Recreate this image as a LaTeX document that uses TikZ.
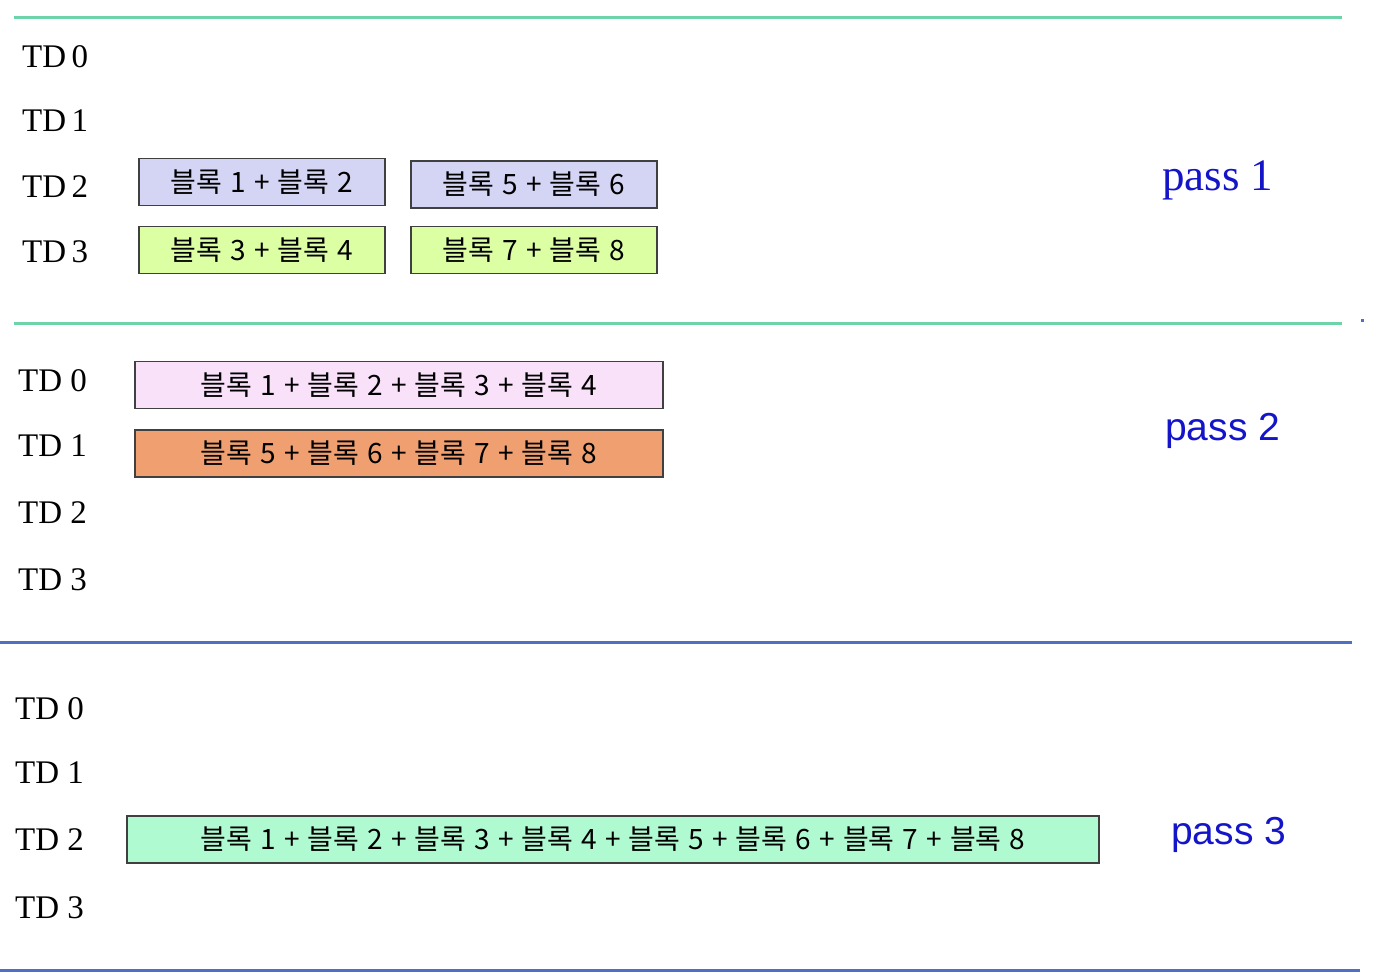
\documentclass[tikz,border=0pt]{standalone}
\usepackage{fontspec}
\setmainfont{Liberation Serif}
\newfontfamily\krfont[WordSpace=1.3]{Noto Sans CJK KR}
\newfontfamily\passsans{Liberation Sans}
\usepackage{tikz}
\usetikzlibrary{positioning}
\definecolor{rulegreen}{HTML}{6CD4A8}
\definecolor{ruleblue}{HTML}{4F6FC4}
\definecolor{passblue}{HTML}{1414C8}
\definecolor{lavender}{HTML}{D4D4F4}
\definecolor{limegreen}{HTML}{DCFFA4}
\definecolor{pinkish}{HTML}{F9E1FA}
\definecolor{salmon}{HTML}{F0A070}
\definecolor{mint}{HTML}{B0FAD2}
\tikzset{
  tdlabel/.style = {anchor=west, inner sep=0pt, font=\fontsize{33}{36}\selectfont},
  blk/.style     = {rectangle, draw=black!75, fill=#1, line width=1.4pt, inner sep=0pt,
                    minimum height=47pt, font=\krfont\fontsize{28}{32}\selectfont},
  passlbl/.style = {anchor=west, inner sep=0pt, text=passblue},
  sep/.style     = {line width=3pt, draw=#1},
}
\begin{document}
\begin{tikzpicture}[x=1pt, y=-1pt]
  \useasboundingbox (0,0) rectangle (1376,978);
  % separators
  \draw[sep=rulegreen] (14,17) -- (1342,17);
  \draw[sep=rulegreen] (14,323) -- (1342,323);
  \draw[sep=ruleblue] (0,642) -- (1352,642);
  \draw[sep=ruleblue] (0,970) -- (1360,970);
  \fill[ruleblue] (1361,319) rectangle (1364,322);
  % pass 1
  \foreach \i/\y in {0/57,1/121,2/187,3/252}
    \node[tdlabel] (pa\i) at (22,\y) {TD\,\i};
  \node[blk=lavender, minimum width=246pt] (b12) at (262,182) {블록 1 + 블록 2};
  \node[blk=lavender, minimum width=246pt] (b56) at (534,184.5) {블록 5 + 블록 6};
  \node[blk=limegreen, minimum width=246pt] (b34) at (262,250) {블록 3 + 블록 4};
  \node[blk=limegreen, minimum width=246pt] (b78) at (534,250) {블록 7 + 블록 8};
  \node[passlbl, font=\fontsize{45}{48}\selectfont] (pass1) at (1162,180) {pass 1};
  % pass 2
  \foreach \i/\y in {0/381,1/446,2/513,3/580}
    \node[tdlabel] (pb\i) at (18,\y) {TD \i};
  \node[blk=pinkish, minimum width=528pt] (b1to4) at (399,385) {블록 1 + 블록 2 + 블록 3 + 블록 4};
  \node[blk=salmon, minimum width=528pt] (b5to8) at (399,453.5) {블록 5 + 블록 6 + 블록 7 + 블록 8};
  \node[passlbl, font=\passsans\fontsize{39}{42}\selectfont] (pass2) at (1165,431) {pass 2};
  % pass 3
  \foreach \i/\y in {0/709,1/773,2/840,3/908}
    \node[tdlabel] (pc\i) at (15,\y) {TD \i};
  \node[blk=mint, minimum width=972pt] (b1to8) at (613,839.5)
    {블록 1 + 블록 2 + 블록 3 + 블록 4 + 블록 5 + 블록 6 + 블록 7 + 블록 8};
  \node[passlbl, font=\passsans\fontsize{39}{42}\selectfont] (pass3) at (1171,835) {pass 3};
\end{tikzpicture}
\end{document}
